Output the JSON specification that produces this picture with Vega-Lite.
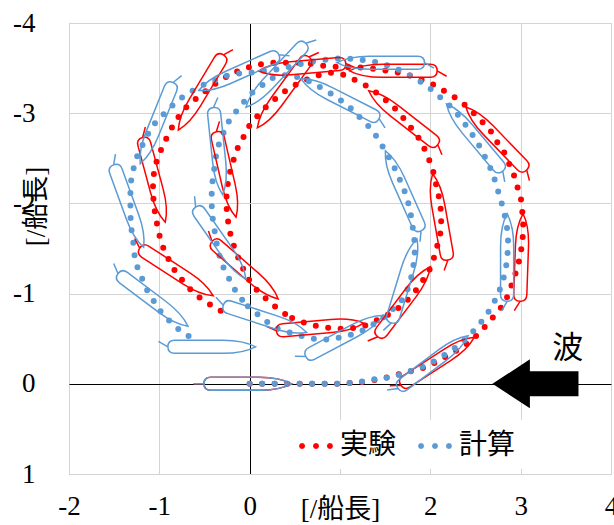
{
"$schema":"https://vega.github.io/schema/vega-lite/v6.json",
"width":542,"height":451,
"autosize":"none",
"padding":{"left":69,"top":23,"right":3,"bottom":51},
"background":"white",
"config":{"view":{"stroke":"#b8b8b8","strokeWidth":1}},
"datasets":{
"traj":[
{"s":"実験","g":"r1","x":0,"y":0},{"s":"実験","g":"r1","x":0.14,"y":0},{"s":"実験","g":"r1","x":0.28,"y":0},{"s":"実験","g":"r1","x":0.42,"y":0},{"s":"実験","g":"r1","x":0.56,"y":0},{"s":"実験","g":"r1","x":0.7,"y":0},{"s":"実験","g":"r1","x":0.84,"y":0},{"s":"実験","g":"r1","x":0.98,"y":0},{"s":"実験","g":"r1","x":1.12,"y":-0.01},{"s":"実験","g":"r1","x":1.26,"y":-0.02},{"s":"実験","g":"r1","x":1.43,"y":-0.05},{"s":"実験","g":"r1","x":1.56,"y":-0.08},{"s":"実験","g":"r1","x":1.7,"y":-0.12},{"s":"実験","g":"r1","x":1.84,"y":-0.15},{"s":"実験","g":"r1","x":1.97,"y":-0.19},{"s":"実験","g":"r1","x":2.08,"y":-0.25},{"s":"実験","g":"r1","x":2.22,"y":-0.33},{"s":"実験","g":"r1","x":2.35,"y":-0.4},{"s":"実験","g":"r1","x":2.45,"y":-0.48},{"s":"実験","g":"r1","x":2.56,"y":-0.58},{"s":"実験","g":"r1","x":2.65,"y":-0.69},{"s":"実験","g":"r1","x":2.75,"y":-0.8},{"s":"実験","g":"r1","x":2.83,"y":-0.91},{"s":"実験","g":"r1","x":2.88,"y":-1.04},{"s":"実験","g":"r1","x":2.93,"y":-1.18},{"s":"実験","g":"r1","x":2.97,"y":-1.31},{"s":"実験","g":"r1","x":3.0,"y":-1.44},{"s":"実験","g":"r1","x":3.02,"y":-1.59},{"s":"実験","g":"r1","x":3.03,"y":-1.73},{"s":"実験","g":"r1","x":3.02,"y":-1.88},{"s":"実験","g":"r1","x":3.01,"y":-2.02},{"s":"実験","g":"r1","x":2.97,"y":-2.16},{"s":"実験","g":"r1","x":2.93,"y":-2.3},{"s":"実験","g":"r1","x":2.88,"y":-2.42},{"s":"実験","g":"r1","x":2.82,"y":-2.56},{"s":"実験","g":"r1","x":2.74,"y":-2.68},{"s":"実験","g":"r1","x":2.67,"y":-2.8},{"s":"実験","g":"r1","x":2.57,"y":-2.91},{"s":"実験","g":"r1","x":2.47,"y":-3.01},{"s":"実験","g":"r1","x":2.36,"y":-3.11},{"s":"実験","g":"r1","x":2.25,"y":-3.19},{"s":"実験","g":"r1","x":2.13,"y":-3.26},{"s":"実験","g":"r1","x":2.01,"y":-3.33},{"s":"実験","g":"r1","x":1.88,"y":-3.38},{"s":"実験","g":"r1","x":1.74,"y":-3.43},{"s":"実験","g":"r1","x":1.6,"y":-3.46},{"s":"実験","g":"r1","x":1.46,"y":-3.48},{"s":"実験","g":"r1","x":1.32,"y":-3.5},{"s":"実験","g":"r1","x":1.18,"y":-3.51},{"s":"実験","g":"r1","x":1.04,"y":-3.51},{"s":"実験","g":"r1","x":0.9,"y":-3.52},{"s":"実験","g":"r1","x":0.78,"y":-3.53},{"s":"実験","g":"r1","x":0.66,"y":-3.55},{"s":"実験","g":"r1","x":0.52,"y":-3.56},{"s":"実験","g":"r1","x":0.38,"y":-3.56},{"s":"実験","g":"r1","x":0.24,"y":-3.56},{"s":"実験","g":"r1","x":0.1,"y":-3.54},{"s":"実験","g":"r1","x":-0.04,"y":-3.5},{"s":"実験","g":"r1","x":-0.17,"y":-3.45},{"s":"実験","g":"r1","x":-0.3,"y":-3.38},{"s":"実験","g":"r1","x":-0.42,"y":-3.3},{"s":"実験","g":"r1","x":-0.52,"y":-3.22},{"s":"実験","g":"r1","x":-0.63,"y":-3.13},{"s":"実験","g":"r1","x":-0.74,"y":-3.03},{"s":"実験","g":"r1","x":-0.82,"y":-2.91},{"s":"実験","g":"r1","x":-0.89,"y":-2.79},{"s":"実験","g":"r1","x":-0.95,"y":-2.66},{"s":"実験","g":"r1","x":-1.01,"y":-2.53},{"s":"実験","g":"r1","x":-1.05,"y":-2.4},{"s":"実験","g":"r1","x":-1.07,"y":-2.26},{"s":"実験","g":"r1","x":-1.07,"y":-2.12},{"s":"実験","g":"r1","x":-1.06,"y":-1.98},{"s":"実験","g":"r1","x":-1.04,"y":-1.84},{"s":"実験","g":"r1","x":-1.01,"y":-1.7},{"s":"実験","g":"r1","x":-0.98,"y":-1.56},{"s":"実験","g":"r1","x":-0.92,"y":-1.43},{"s":"実験","g":"r1","x":-0.86,"y":-1.3},{"s":"実験","g":"r1","x":-0.78,"y":-1.19},{"s":"実験","g":"r1","x":-0.69,"y":-1.08},{"s":"実験","g":"r1","x":-0.59,"y":-0.98},{"s":"実験","g":"r1","x":-0.47,"y":-0.9},{"s":"実験","g":"r1","x":-0.35,"y":-0.82},{"s":"実験","g":"r1","x":-0.22,"y":-0.77},
{"s":"実験","g":"r2","x":0.47,"y":-0.73},{"s":"実験","g":"r2","x":0.6,"y":-0.68},{"s":"実験","g":"r2","x":0.74,"y":-0.64},{"s":"実験","g":"r2","x":0.87,"y":-0.62},{"s":"実験","g":"r2","x":1.01,"y":-0.61},{"s":"実験","g":"r2","x":1.16,"y":-0.62},{"s":"実験","g":"r2","x":1.29,"y":-0.65},{"s":"実験","g":"r2","x":1.4,"y":-0.7},{"s":"実験","g":"r2","x":1.54,"y":-0.77},{"s":"実験","g":"r2","x":1.66,"y":-0.85},{"s":"実験","g":"r2","x":1.77,"y":-0.95},{"s":"実験","g":"r2","x":1.86,"y":-1.06},{"s":"実験","g":"r2","x":1.94,"y":-1.18},{"s":"実験","g":"r2","x":2.01,"y":-1.3},{"s":"実験","g":"r2","x":2.05,"y":-1.43},{"s":"実験","g":"r2","x":2.09,"y":-1.58},{"s":"実験","g":"r2","x":2.12,"y":-1.71},{"s":"実験","g":"r2","x":2.12,"y":-1.86},{"s":"実験","g":"r2","x":2.11,"y":-2.0},{"s":"実験","g":"r2","x":2.08,"y":-2.14},{"s":"実験","g":"r2","x":2.05,"y":-2.27},{"s":"実験","g":"r2","x":2.02,"y":-2.41},{"s":"実験","g":"r2","x":1.96,"y":-2.54},{"s":"実験","g":"r2","x":1.91,"y":-2.67},{"s":"実験","g":"r2","x":1.83,"y":-2.78},{"s":"実験","g":"r2","x":1.74,"y":-2.9},{"s":"実験","g":"r2","x":1.65,"y":-3.01},{"s":"実験","g":"r2","x":1.55,"y":-3.11},{"s":"実験","g":"r2","x":1.44,"y":-3.2},{"s":"実験","g":"r2","x":1.32,"y":-3.29},{"s":"実験","g":"r2","x":1.2,"y":-3.35},{"s":"実験","g":"r2","x":1.07,"y":-3.42},{"s":"実験","g":"r2","x":0.91,"y":-3.45},{"s":"実験","g":"r2","x":0.76,"y":-3.42},{"s":"実験","g":"r2","x":0.62,"y":-3.37},{"s":"実験","g":"r2","x":0.5,"y":-3.31},{"s":"実験","g":"r2","x":0.37,"y":-3.23},{"s":"実験","g":"r2","x":0.26,"y":-3.14},{"s":"実験","g":"r2","x":0.16,"y":-3.05},{"s":"実験","g":"r2","x":0.07,"y":-2.95},{"s":"実験","g":"r2","x":-0.02,"y":-2.84},{"s":"実験","g":"r2","x":-0.08,"y":-2.71},{"s":"実験","g":"r2","x":-0.15,"y":-2.58},{"s":"実験","g":"r2","x":-0.19,"y":-2.44},{"s":"実験","g":"r2","x":-0.23,"y":-2.3},{"s":"実験","g":"r2","x":-0.25,"y":-2.16},{"s":"実験","g":"r2","x":-0.26,"y":-2.02},{"s":"実験","g":"r2","x":-0.25,"y":-1.88},{"s":"実験","g":"r2","x":-0.23,"y":-1.74},{"s":"実験","g":"r2","x":-0.2,"y":-1.6},{"s":"実験","g":"r2","x":-0.15,"y":-1.46},{"s":"実験","g":"r2","x":-0.1,"y":-1.33},{"s":"実験","g":"r2","x":-0.04,"y":-1.21},{"s":"実験","g":"r2","x":0.03,"y":-1.09},{"s":"実験","g":"r2","x":0.13,"y":-0.99},{"s":"実験","g":"r2","x":0.24,"y":-0.89},{"s":"実験","g":"r2","x":0.35,"y":-0.8},{"s":"実験","g":"r2","x":0.47,"y":-0.73},
{"s":"計算","g":"b1","x":0,"y":0},{"s":"計算","g":"b1","x":0.14,"y":0},{"s":"計算","g":"b1","x":0.28,"y":0},{"s":"計算","g":"b1","x":0.42,"y":0},{"s":"計算","g":"b1","x":0.56,"y":0},{"s":"計算","g":"b1","x":0.7,"y":0},{"s":"計算","g":"b1","x":0.84,"y":0},{"s":"計算","g":"b1","x":0.98,"y":0},{"s":"計算","g":"b1","x":1.12,"y":-0.01},{"s":"計算","g":"b1","x":1.28,"y":-0.03},{"s":"計算","g":"b1","x":1.43,"y":-0.06},{"s":"計算","g":"b1","x":1.56,"y":-0.07},{"s":"計算","g":"b1","x":1.7,"y":-0.11},{"s":"計算","g":"b1","x":1.83,"y":-0.16},{"s":"計算","g":"b1","x":1.95,"y":-0.2},{"s":"計算","g":"b1","x":2.08,"y":-0.27},{"s":"計算","g":"b1","x":2.2,"y":-0.35},{"s":"計算","g":"b1","x":2.32,"y":-0.43},{"s":"計算","g":"b1","x":2.42,"y":-0.52},{"s":"計算","g":"b1","x":2.51,"y":-0.62},{"s":"計算","g":"b1","x":2.6,"y":-0.73},{"s":"計算","g":"b1","x":2.67,"y":-0.84},{"s":"計算","g":"b1","x":2.74,"y":-0.97},{"s":"計算","g":"b1","x":2.79,"y":-1.1},{"s":"計算","g":"b1","x":2.83,"y":-1.24},{"s":"計算","g":"b1","x":2.85,"y":-1.38},{"s":"計算","g":"b1","x":2.86,"y":-1.52},{"s":"計算","g":"b1","x":2.86,"y":-1.65},{"s":"計算","g":"b1","x":2.84,"y":-1.79},{"s":"計算","g":"b1","x":2.81,"y":-1.93},{"s":"計算","g":"b1","x":2.77,"y":-2.07},{"s":"計算","g":"b1","x":2.73,"y":-2.2},{"s":"計算","g":"b1","x":2.69,"y":-2.34},{"s":"計算","g":"b1","x":2.63,"y":-2.46},{"s":"計算","g":"b1","x":2.57,"y":-2.59},{"s":"計算","g":"b1","x":2.5,"y":-2.71},{"s":"計算","g":"b1","x":2.42,"y":-2.83},{"s":"計算","g":"b1","x":2.34,"y":-2.94},{"s":"計算","g":"b1","x":2.25,"y":-3.05},{"s":"計算","g":"b1","x":2.15,"y":-3.14},{"s":"計算","g":"b1","x":2.05,"y":-3.23},{"s":"計算","g":"b1","x":1.94,"y":-3.32},{"s":"計算","g":"b1","x":1.82,"y":-3.39},{"s":"計算","g":"b1","x":1.7,"y":-3.46},{"s":"計算","g":"b1","x":1.58,"y":-3.51},{"s":"計算","g":"b1","x":1.45,"y":-3.56},{"s":"計算","g":"b1","x":1.31,"y":-3.58},{"s":"計算","g":"b1","x":1.18,"y":-3.6},{"s":"計算","g":"b1","x":1.04,"y":-3.61},{"s":"計算","g":"b1","x":0.9,"y":-3.6},{"s":"計算","g":"b1","x":0.75,"y":-3.58},{"s":"計算","g":"b1","x":0.62,"y":-3.56},{"s":"計算","g":"b1","x":0.5,"y":-3.53},{"s":"計算","g":"b1","x":0.38,"y":-3.5},{"s":"計算","g":"b1","x":0.27,"y":-3.48},{"s":"計算","g":"b1","x":0.14,"y":-3.47},{"s":"計算","g":"b1","x":0.02,"y":-3.45},{"s":"計算","g":"b1","x":-0.11,"y":-3.44},{"s":"計算","g":"b1","x":-0.24,"y":-3.42},{"s":"計算","g":"b1","x":-0.37,"y":-3.37},{"s":"計算","g":"b1","x":-0.5,"y":-3.32},{"s":"計算","g":"b1","x":-0.63,"y":-3.25},{"s":"計算","g":"b1","x":-0.74,"y":-3.18},{"s":"計算","g":"b1","x":-0.84,"y":-3.1},{"s":"計算","g":"b1","x":-0.94,"y":-3.0},{"s":"計算","g":"b1","x":-1.04,"y":-2.9},{"s":"計算","g":"b1","x":-1.12,"y":-2.78},{"s":"計算","g":"b1","x":-1.18,"y":-2.66},{"s":"計算","g":"b1","x":-1.24,"y":-2.54},{"s":"計算","g":"b1","x":-1.28,"y":-2.41},{"s":"計算","g":"b1","x":-1.31,"y":-2.28},{"s":"計算","g":"b1","x":-1.32,"y":-2.14},{"s":"計算","g":"b1","x":-1.32,"y":-2.01},{"s":"計算","g":"b1","x":-1.32,"y":-1.87},{"s":"計算","g":"b1","x":-1.31,"y":-1.72},{"s":"計算","g":"b1","x":-1.29,"y":-1.59},{"s":"計算","g":"b1","x":-1.28,"y":-1.45},{"s":"計算","g":"b1","x":-1.25,"y":-1.31},{"s":"計算","g":"b1","x":-1.2,"y":-1.19},{"s":"計算","g":"b1","x":-1.15,"y":-1.06},{"s":"計算","g":"b1","x":-1.08,"y":-0.95},{"s":"計算","g":"b1","x":-1.01,"y":-0.83},{"s":"計算","g":"b1","x":-0.92,"y":-0.73},{"s":"計算","g":"b1","x":-0.82,"y":-0.63},{"s":"計算","g":"b1","x":-0.71,"y":-0.55},{"s":"計算","g":"b1","x":-0.59,"y":-0.48},
{"s":"計算","g":"b2","x":-0.02,"y":-0.86},{"s":"計算","g":"b2","x":0.09,"y":-0.77},{"s":"計算","g":"b2","x":0.2,"y":-0.68},{"s":"計算","g":"b2","x":0.31,"y":-0.61},{"s":"計算","g":"b2","x":0.44,"y":-0.57},{"s":"計算","g":"b2","x":0.57,"y":-0.53},{"s":"計算","g":"b2","x":0.7,"y":-0.5},{"s":"計算","g":"b2","x":0.84,"y":-0.49},{"s":"計算","g":"b2","x":0.98,"y":-0.51},{"s":"計算","g":"b2","x":1.11,"y":-0.54},{"s":"計算","g":"b2","x":1.23,"y":-0.58},{"s":"計算","g":"b2","x":1.34,"y":-0.64},{"s":"計算","g":"b2","x":1.45,"y":-0.71},{"s":"計算","g":"b2","x":1.55,"y":-0.8},{"s":"計算","g":"b2","x":1.65,"y":-0.88},{"s":"計算","g":"b2","x":1.72,"y":-0.98},{"s":"計算","g":"b2","x":1.77,"y":-1.1},{"s":"計算","g":"b2","x":1.8,"y":-1.23},{"s":"計算","g":"b2","x":1.82,"y":-1.36},{"s":"計算","g":"b2","x":1.83,"y":-1.5},{"s":"計算","g":"b2","x":1.82,"y":-1.63},{"s":"計算","g":"b2","x":1.8,"y":-1.77},{"s":"計算","g":"b2","x":1.78,"y":-1.9},{"s":"計算","g":"b2","x":1.75,"y":-2.03},{"s":"計算","g":"b2","x":1.71,"y":-2.15},{"s":"計算","g":"b2","x":1.66,"y":-2.27},{"s":"計算","g":"b2","x":1.61,"y":-2.38},{"s":"計算","g":"b2","x":1.56,"y":-2.48},{"s":"計算","g":"b2","x":1.49,"y":-2.6},{"s":"計算","g":"b2","x":1.42,"y":-2.72},{"s":"計算","g":"b2","x":1.34,"y":-2.83},{"s":"計算","g":"b2","x":1.24,"y":-2.93},{"s":"計算","g":"b2","x":1.15,"y":-3.03},{"s":"計算","g":"b2","x":1.04,"y":-3.12},{"s":"計算","g":"b2","x":0.93,"y":-3.2},{"s":"計算","g":"b2","x":0.81,"y":-3.27},{"s":"計算","g":"b2","x":0.69,"y":-3.34},{"s":"計算","g":"b2","x":0.57,"y":-3.39},{"s":"計算","g":"b2","x":0.45,"y":-3.42},{"s":"計算","g":"b2","x":0.35,"y":-3.42},{"s":"計算","g":"b2","x":0.25,"y":-3.39},{"s":"計算","g":"b2","x":0.14,"y":-3.31},{"s":"計算","g":"b2","x":0.03,"y":-3.23},{"s":"計算","g":"b2","x":-0.06,"y":-3.13},{"s":"計算","g":"b2","x":-0.15,"y":-3.02},{"s":"計算","g":"b2","x":-0.23,"y":-2.91},{"s":"計算","g":"b2","x":-0.29,"y":-2.78},{"s":"計算","g":"b2","x":-0.34,"y":-2.66},{"s":"計算","g":"b2","x":-0.37,"y":-2.54},{"s":"計算","g":"b2","x":-0.39,"y":-2.4},{"s":"計算","g":"b2","x":-0.41,"y":-2.26},{"s":"計算","g":"b2","x":-0.42,"y":-2.12},{"s":"計算","g":"b2","x":-0.42,"y":-1.98},{"s":"計算","g":"b2","x":-0.41,"y":-1.84},{"s":"計算","g":"b2","x":-0.39,"y":-1.71},{"s":"計算","g":"b2","x":-0.37,"y":-1.58},{"s":"計算","g":"b2","x":-0.34,"y":-1.44},{"s":"計算","g":"b2","x":-0.3,"y":-1.31},{"s":"計算","g":"b2","x":-0.24,"y":-1.19},{"s":"計算","g":"b2","x":-0.18,"y":-1.07},{"s":"計算","g":"b2","x":-0.11,"y":-0.96},{"s":"計算","g":"b2","x":-0.02,"y":-0.86}
],
"ships":[
{"s":"実験","r":"0","x":-0.02,"y":0,"a":0},
{"s":"実験","r":"1","x":2.08,"y":-0.25,"a":-33},
{"s":"実験","r":"1","x":3.01,"y":-1.4,"a":-88},
{"s":"実験","r":"1","x":2.73,"y":-2.72,"a":-134},
{"s":"実験","r":"1","x":1.59,"y":-3.47,"a":180},
{"s":"実験","r":"1","x":0.58,"y":-3.51,"a":175},
{"s":"実験","r":"1","x":-0.54,"y":-3.23,"a":121},
{"s":"実験","r":"1","x":-1.06,"y":-2.26,"a":75},
{"s":"実験","r":"1","x":-0.81,"y":-1.24,"a":33},
{"s":"実験","r":"1","x":0.78,"y":-0.63,"a":-5},
{"s":"実験","r":"1","x":1.71,"y":-0.91,"a":-53},
{"s":"実験","r":"1","x":2.11,"y":-1.85,"a":-100},
{"s":"実験","r":"1","x":1.7,"y":-2.95,"a":-142},
{"s":"実験","r":"1","x":0.37,"y":-3.23,"a":126},
{"s":"実験","r":"1","x":-0.26,"y":-2.32,"a":77},
{"s":"実験","r":"1","x":-0.05,"y":-1.26,"a":41},
{"s":"計算","r":"0","x":-0.02,"y":0,"a":0},
{"s":"計算","r":"1","x":2.03,"y":-0.24,"a":-37},
{"s":"計算","r":"1","x":2.85,"y":-1.4,"a":-90},
{"s":"計算","r":"1","x":2.49,"y":-2.73,"a":-130},
{"s":"計算","r":"1","x":1.45,"y":-3.56,"a":180},
{"s":"計算","r":"1","x":-0.12,"y":-3.45,"a":156},
{"s":"計算","r":"1","x":-1.03,"y":-2.89,"a":112},
{"s":"計算","r":"1","x":-1.34,"y":-1.97,"a":70},
{"s":"計算","r":"1","x":-1.07,"y":-0.93,"a":37},
{"s":"計算","r":"1","x":-0.42,"y":-0.41,"a":0},
{"s":"計算","r":"1","x":0.17,"y":-0.72,"a":18},
{"s":"計算","r":"1","x":1.05,"y":-0.53,"a":-28},
{"s":"計算","r":"1","x":1.71,"y":-1.14,"a":-73},
{"s":"計算","r":"1","x":1.7,"y":-2.14,"a":-114},
{"s":"計算","r":"1","x":1.0,"y":-3.16,"a":-153},
{"s":"計算","r":"1","x":0.29,"y":-3.42,"a":133},
{"s":"計算","r":"1","x":-0.35,"y":-2.58,"a":84},
{"s":"計算","r":"1","x":-0.32,"y":-1.56,"a":55}
]
},
"layer":[
{"data":{"name":"traj"},
"mark":{"type":"line","strokeWidth":6,"strokeDash":[0,12.5],"strokeCap":"round","strokeJoin":"round"},
"encoding":{
"x":{"field":"x","type":"quantitative","scale":{"domain":[-2,4],"nice":false,"zero":false},
"axis":{"values":[-2,-1,0,1,2,3,4],"grid":true,"gridColor":{"condition":{"test":"datum.value === 0","value":"#000000"},"value":"#d4d4d4"},"domain":false,"ticks":false,"labelFont":"Liberation Serif","labelFontSize":27,"labelColor":"#000000","labelPadding":19,"labelFlush":false,"labelOverlap":false,"labelExpr":"datum.value === 1 ? '' : (datum.value < 0 ? '-' + abs(datum.value) : '' + datum.value)","title":"[/船長]","titleFont":"'Liberation Serif', 'Noto Sans CJK JP'","titleFontSize":27,"titleFontWeight":"normal","titleColor":"#000000","titleBaseline":"alphabetic","titleY":43}},
"y":{"field":"y","type":"quantitative","scale":{"domain":[-4,1],"nice":false,"zero":false,"reverse":true},
"axis":{"values":[-4,-3,-2,-1,0,1],"grid":true,"gridColor":{"condition":{"test":"datum.value === 0","value":"#000000"},"value":"#d4d4d4"},"domain":false,"ticks":false,"labelFont":"Liberation Serif","labelFontSize":27,"labelColor":"#000000","labelPadding":34,"labelFlush":false,"labelOverlap":false,"labelBaseline":"middle","labelExpr":"datum.value < 0 ? '-' + abs(datum.value) : '' + datum.value","title":"[/船長]","titleFont":"'Liberation Serif', 'Noto Sans CJK JP'","titleFontSize":27,"titleFontWeight":"normal","titleColor":"#000000","titleAngle":270,"titleAlign":"center","titleBaseline":"middle","titleX":-33,"titleY":183}},
"detail":{"field":"g"},
"stroke":{"field":"s","type":"nominal","scale":{"domain":["計算","実験"],"range":["#5b9bd5","#ff0000"]},"legend":null},
"order":{"value":null}
}},
{"data":{"name":"ships"},
"mark":{"type":"point","filled":false,"strokeWidth":1.5,"opacity":1,"size":8172},
"encoding":{
"x":{"field":"x","type":"quantitative"},
"y":{"field":"y","type":"quantitative"},
"stroke":{"field":"s","type":"nominal","scale":{"domain":["計算","実験"],"range":["#5b9bd5","#ff0000"]},"legend":null},
"shape":{"field":"r","type":"nominal","scale":{"domain":["0","1"],"range":["M0.97,0C0.8,0.09 0.55,0.145 0.25,0.145L-0.82,0.145C-0.94,0.145 -0.97,0.09 -0.97,0C-0.97,-0.09 -0.94,-0.145 -0.82,-0.145L0.25,-0.145C0.55,-0.145 0.8,-0.09 0.97,0ZM-0.97,0L-1.2,0","M0.97,0C0.8,0.09 0.55,0.145 0.25,0.145L-0.82,0.145C-0.94,0.145 -0.97,0.09 -0.97,0C-0.97,-0.09 -0.94,-0.145 -0.82,-0.145L0.25,-0.145C0.55,-0.145 0.8,-0.09 0.97,0ZM-0.97,0L-1.18,-0.12"]},"legend":null},
"angle":{"field":"a","type":"quantitative","scale":null}
}},
{"data":{"values":[{}]},
"mark":{"type":"point","shape":"M-1,0L-0.13,-0.57L-0.13,-0.29L1,-0.29L1,0.29L-0.13,0.29L-0.13,0.57Z","filled":true,"color":"#000000","size":7396,"opacity":1},
"encoding":{"x":{"datum":3.164,"type":"quantitative"},"y":{"datum":0,"type":"quantitative"}}},
{"data":{"values":[{}]},
"mark":{"type":"text","text":"波","font":"Noto Sans CJK JP","fontSize":31,"color":"#000000","align":"center","baseline":"middle"},
"encoding":{"x":{"datum":3.52,"type":"quantitative"},"y":{"datum":-0.39,"type":"quantitative"}}},
{"data":{"name":"traj"},
"mark":{"type":"point","filled":true,"size":0.01,"opacity":1},
"encoding":{
"x":{"field":"x","type":"quantitative"},
"y":{"field":"y","type":"quantitative"},
"color":{"field":"s","type":"nominal","scale":{"domain":["実験","計算"],"range":["#ff0000","#5b9bd5"]},
"legend":{"title":null,"orient":"none","legendX":221,"legendY":397,"direction":"horizontal","fillColor":"#ffffff","padding":9,"symbolType":"M-0.64,0L-0.693,0.127L-0.82,0.18L-0.947,0.127L-1,0L-0.947,-0.127L-0.82,-0.18L-0.693,-0.127ZM0.18,0L0.127,0.127L0,0.18L-0.127,0.127L-0.18,0L-0.127,-0.127L0,-0.18L0.127,-0.127ZM1,0L0.947,0.127L0.82,0.18L0.693,0.127L0.64,0L0.693,-0.127L0.82,-0.18L0.947,-0.127Z","symbolSize":1156,"symbolStrokeWidth":0,"labelFont":"Noto Sans CJK JP","labelFontSize":28,"labelColor":"#000000","labelOffset":7,"columnPadding":21,"labelLimit":300}}
}}
]
}
